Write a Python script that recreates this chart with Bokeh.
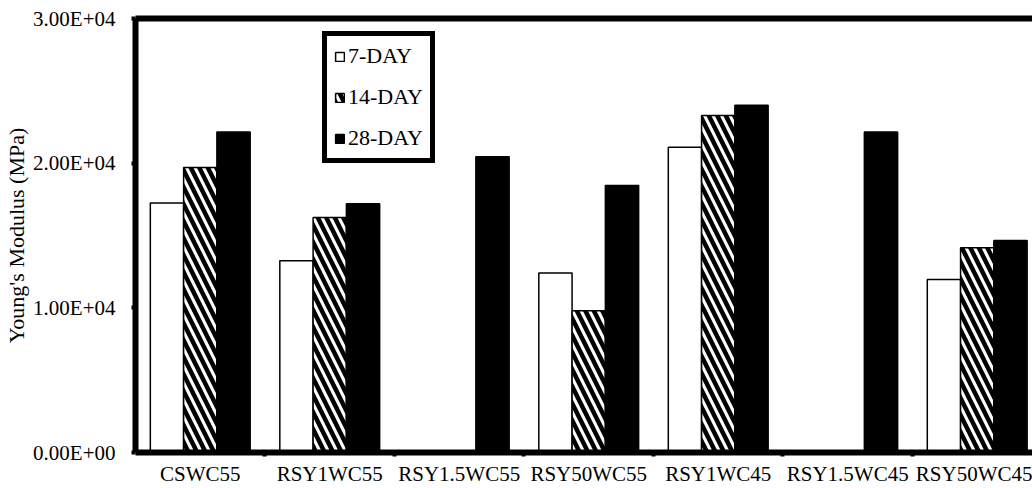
from bokeh.plotting import figure
from bokeh.models import (ColumnDataSource, Range1d, FixedTicker, LinearAxis, Legend, LegendItem)
from bokeh.transform import dodge
from bokeh.embed import file_html
from bokeh.resources import INLINE

categories = ["CSWC55", "RSY1WC55", "RSY1.5WC55", "RSY50WC55", "RSY1WC45", "RSY1.5WC45", "RSY50WC45"]
day7 = [17250, 13250, 0, 12400, 21100, 0, 11950]
day14 = [19700, 16250, 0, 9800, 23300, 0, 14150]
day28 = [22150, 17200, 20450, 18450, 24000, 22150, 14650]
series_labels = ["7-DAY", "14-DAY", "28-DAY"]
y_ticks = [0, 10000, 20000, 30000]
y_tick_labels = ["0.00E+00", "1.00E+04", "2.00E+04", "3.00E+04"]

FONT = "'Liberation Serif', 'Times New Roman', serif"
xpos = [i + 0.5 for i in range(len(categories))]
src = ColumnDataSource(dict(x=xpos, d7=day7, d14=day14, d28=day28))

p = figure(width=1032, height=488, output_backend="svg", toolbar_location=None,
           x_range=Range1d(0, 6.927), y_range=Range1d(0, 30000),
           min_border_left=135, min_border_right=0, min_border_top=18, min_border_bottom=30)
p.background_fill_color = "white"
p.border_fill_color = "white"
p.outline_line_color = None
p.xgrid.visible = False
p.ygrid.visible = False

bw = 0.257
r7 = p.vbar(x=dodge("x", -bw, range=p.x_range), top="d7", width=bw, source=src,
            fill_color="white", line_color="black", line_width=1.5)
r14 = p.vbar(x=dodge("x", 0, range=p.x_range), top="d14", width=bw, source=src,
             fill_color="white", line_color="black", line_width=1.5,
             hatch_pattern="\\", hatch_color="black", hatch_scale=17, hatch_weight=4.5)
r28 = p.vbar(x=dodge("x", bw, range=p.x_range), top="d28", width=bw, source=src,
             fill_color="black", line_color="black", line_width=1.5)

# x axis
xa = p.xaxis[0]
xa.ticker = FixedTicker(ticks=xpos, minor_ticks=[1, 2, 3, 4, 5, 6])
xa.major_label_overrides = {float(x): c for x, c in zip(xpos, categories)}
xa.axis_line_width = 6
xa.axis_line_color = "black"
xa.major_tick_line_color = None
xa.major_tick_out = 0
xa.major_tick_in = 0
xa.minor_tick_out = 4
xa.minor_tick_in = 0
xa.minor_tick_line_width = 4
xa.minor_tick_line_color = "black"
xa.major_label_text_font = FONT
xa.major_label_text_font_size = "21px"
xa.major_label_text_color = "black"
xa.major_label_standoff = 5

# y axis
ya = p.yaxis[0]
ya.ticker = FixedTicker(ticks=y_ticks, minor_ticks=[])
ya.major_label_overrides = {t: l for t, l in zip(y_ticks, y_tick_labels)}
ya.axis_line_width = 6
ya.axis_line_color = "black"
ya.major_tick_out = 4
ya.major_tick_in = 0
ya.major_tick_line_width = 4
ya.minor_tick_line_color = None
ya.major_label_text_font = FONT
ya.major_label_text_font_size = "21px"
ya.major_label_text_color = "black"
ya.major_label_standoff = 16
ya.axis_label = "Young's Modulus (MPa)"
ya.axis_label_text_font = FONT
ya.axis_label_text_font_size = "22px"
ya.axis_label_text_font_style = "normal"
ya.axis_label_text_color = "black"
ya.axis_label_standoff = 1

# top border line
top = LinearAxis(ticker=FixedTicker(ticks=[]), major_label_text_font_size="0px",
                 major_tick_line_color=None, minor_tick_line_color=None,
                 axis_line_width=6, axis_line_color="black")
p.add_layout(top, "above")

legend = Legend(items=[LegendItem(label=series_labels[0], renderers=[r7]),
                       LegendItem(label=series_labels[1], renderers=[r14]),
                       LegendItem(label=series_labels[2], renderers=[r28])],
                location=(187, 289), orientation="vertical",
                border_line_color="black", border_line_width=5, border_line_alpha=1,
                background_fill_color="white", background_fill_alpha=1,
                label_text_font=FONT, label_text_font_size="22px",
                label_text_color="black",
                glyph_width=11, glyph_height=11, label_standoff=3,
                label_height=22, spacing=15, padding=7, margin=0)
p.add_layout(legend, "center")

open("out.html", "w").write(file_html(p, INLINE))
